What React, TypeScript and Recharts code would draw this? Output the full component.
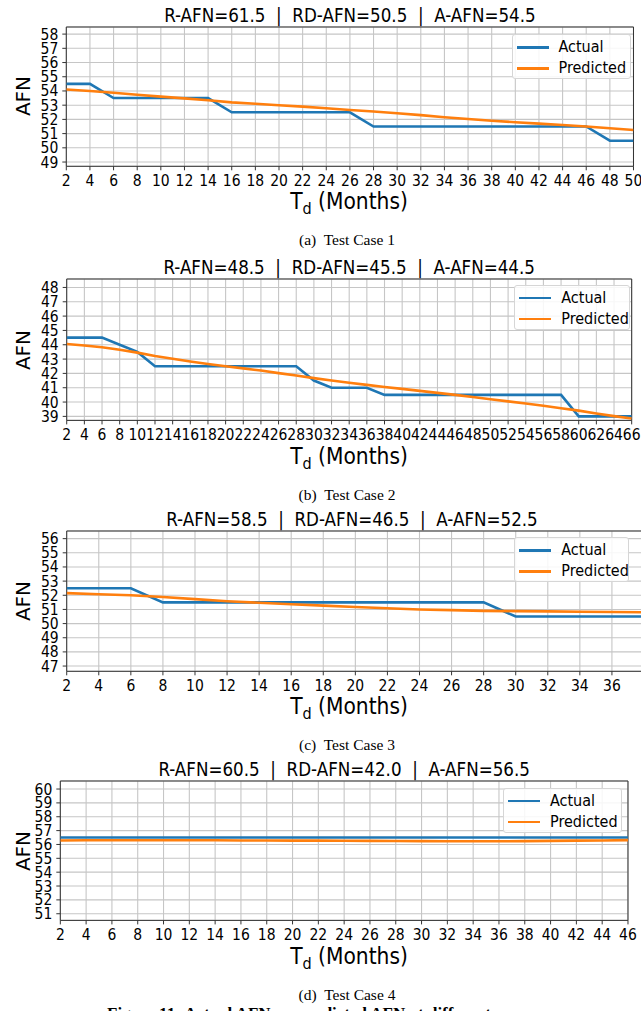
import React from "react";
import { LineChart, Line, XAxis, YAxis, CartesianGrid, ReferenceArea } from "recharts";

// ---- data ----
const months1 = [2, 4, 6, 8, 10, 12, 14, 16, 18, 20, 22, 24, 26, 28, 30, 32, 34, 36, 38, 40, 42, 44, 46, 48, 50];
const actual1 = [54.5, 54.5, 53.5, 53.5, 53.5, 53.5, 53.5, 52.5, 52.5, 52.5, 52.5, 52.5, 52.5, 51.5, 51.5, 51.5, 51.5, 51.5, 51.5, 51.5, 51.5, 51.5, 51.5, 50.5, 50.5];
const predicted1 = [54.1, 54.0, 53.87, 53.73, 53.6, 53.48, 53.35, 53.2, 53.1, 53.0, 52.9, 52.78, 52.66, 52.55, 52.43, 52.3, 52.15, 52.03, 51.9, 51.8, 51.7, 51.6, 51.5, 51.38, 51.25];

const months2 = [2, 4, 6, 8, 10, 12, 14, 16, 18, 20, 22, 24, 26, 28, 30, 32, 34, 36, 38, 40, 42, 44, 46, 48, 50, 52, 54, 56, 58, 60, 62, 64, 66];
const actual2 = [44.5, 44.5, 44.5, 44.0, 43.5, 42.5, 42.5, 42.5, 42.5, 42.5, 42.5, 42.5, 42.5, 42.5, 41.5, 41.0, 41.0, 41.0, 40.5, 40.5, 40.5, 40.5, 40.5, 40.5, 40.5, 40.5, 40.5, 40.5, 40.5, 39.0, 39.0, 39.0, 39.0];
const predicted2 = [44.05, 43.95, 43.82, 43.65, 43.45, 43.22, 43.02, 42.83, 42.66, 42.5, 42.35, 42.2, 42.02, 41.85, 41.67, 41.5, 41.35, 41.2, 41.05, 40.92, 40.78, 40.64, 40.5, 40.35, 40.2, 40.05, 39.9, 39.74, 39.57, 39.4, 39.2, 39.02, 38.85];

const months3 = [2, 4, 6, 8, 10, 12, 14, 16, 18, 20, 22, 24, 26, 28, 30, 32, 34, 36, 38];
const actual3 = [52.5, 52.5, 52.5, 51.5, 51.5, 51.5, 51.5, 51.5, 51.5, 51.5, 51.5, 51.5, 51.5, 51.5, 50.5, 50.5, 50.5, 50.5, 50.5];
const predicted3 = [52.15, 52.07, 52.0, 51.88, 51.73, 51.58, 51.47, 51.37, 51.27, 51.17, 51.08, 51.0, 50.95, 50.9, 50.88, 50.86, 50.84, 50.82, 50.8];

const months4 = [2, 4, 6, 8, 10, 12, 14, 16, 18, 20, 22, 24, 26, 28, 30, 32, 34, 36, 38, 40, 42, 44, 46];
const actual4 = [56.5, 56.5, 56.5, 56.5, 56.5, 56.5, 56.5, 56.5, 56.5, 56.5, 56.5, 56.5, 56.5, 56.5, 56.5, 56.5, 56.5, 56.5, 56.5, 56.5, 56.5, 56.5, 56.5];
const predicted4 = [56.29, 56.3, 56.3, 56.3, 56.3, 56.3, 56.3, 56.29, 56.29, 56.28, 56.28, 56.27, 56.26, 56.25, 56.24, 56.23, 56.23, 56.23, 56.24, 56.26, 56.28, 56.29, 56.31];

const xTicks1 = [2, 4, 6, 8, 10, 12, 14, 16, 18, 20, 22, 24, 26, 28, 30, 32, 34, 36, 38, 40, 42, 44, 46, 48, 50];
const xTicks2 = [2, 4, 6, 8, 10, 12, 14, 16, 18, 20, 22, 24, 26, 28, 30, 32, 34, 36, 38, 40, 42, 44, 46, 48, 50, 52, 54, 56, 58, 60, 62, 64, 66];
const xTicks3 = [2, 4, 6, 8, 10, 12, 14, 16, 18, 20, 22, 24, 26, 28, 30, 32, 34, 36];
const xTicks4 = [2, 4, 6, 8, 10, 12, 14, 16, 18, 20, 22, 24, 26, 28, 30, 32, 34, 36, 38, 40, 42, 44, 46];

const yTicks1 = [49, 50, 51, 52, 53, 54, 55, 56, 57, 58];
const yTicks2 = [39, 40, 41, 42, 43, 44, 45, 46, 47, 48];
const yTicks3 = [47, 48, 49, 50, 51, 52, 53, 54, 55, 56];
const yTicks4 = [51, 52, 53, 54, 55, 56, 57, 58, 59, 60];

const titles = [
  "R-AFN=61.5  |  RD-AFN=50.5  |  A-AFN=54.5",
  "R-AFN=48.5  |  RD-AFN=45.5  |  A-AFN=44.5",
  "R-AFN=58.5  |  RD-AFN=46.5  |  A-AFN=52.5",
  "R-AFN=60.5  |  RD-AFN=42.0  |  A-AFN=56.5",
];
const captions = ["(a)  Test Case 1", "(b)  Test Case 2", "(c)  Test Case 3", "(d)  Test Case 4"];

const BLUE = "#1f77b4";
const ORANGE = "#ff7f0e";
const FONT = '"DejaVu Sans Condensed", "DejaVu Sans", sans-serif';
const SERIF = '"Liberation Serif", "DejaVu Serif", serif';

const rows = (xs: number[], a: number[], p: number[]) =>
  xs.map((x, i) => ({ x, actual: a[i], predicted: p[i] }));

const panels = [
  {
    data: rows(months1, actual1, predicted1),
    xDomain: [2, 50], yDomain: [48.7, 58.5], xTicks: xTicks1, yTicks: yTicks1,
    plot: { top: 26.7, bottom: 166, left: 66.3, right: 633.5 },
    legend: { left: 511.5, top: 34.3, right: 630.5 },
  },
  {
    data: rows(months2, actual2, predicted2),
    xDomain: [2, 66], yDomain: [38.72, 48.59], xTicks: xTicks2, yTicks: yTicks2,
    plot: { top: 279.3, bottom: 420.7, left: 66.7, right: 631.7 },
    legend: { left: 514.3, top: 285, right: 630 },
  },
  {
    data: rows(months3, actual3, predicted3),
    xDomain: [2, 38], yDomain: [46.63, 56.54], xTicks: xTicks3, yTicks: yTicks3,
    plot: { top: 530.7, bottom: 671, left: 66.7, right: 644 },
    legend: { left: 514.3, top: 537.3, right: 629.3 },
  },
  {
    data: rows(months4, actual4, predicted4),
    xDomain: [2, 46], yDomain: [50.52, 60.58], xTicks: xTicks4, yTicks: yTicks4,
    plot: { top: 781.3, bottom: 920.7, left: 60.3, right: 628 },
    legend: { left: 503, top: 788, right: 622 },
  },
];

const PAD = 10;
const XAXIS_H = 34;

function Centered({ x, y, children, style }: any) {
  return (
    <div
      style={{
        position: "absolute",
        left: x,
        top: y,
        transform: "translate(-50%, -50%)",
        whiteSpace: "pre",
        lineHeight: 1,
        ...style,
      }}
    >
      {children}
    </div>
  );
}

function LegendBox({ left, top, right }: { left: number; top: number; right: number }) {
  const items = [
    { label: "Actual", color: BLUE },
    { label: "Predicted", color: ORANGE },
  ];
  return (
    <div
      style={{
        position: "absolute",
        left,
        top,
        width: right - left,
        height: 45,
        boxSizing: "border-box",
        border: "1px solid #d6d6d6",
        borderRadius: 3,
        background: "rgba(255,255,255,0.85)",
        fontFamily: FONT,
        fontStretch: "condensed",
        fontSize: 16,
      }}
    >
      {items.map((it, i) => (
        <div key={it.label} style={{ position: "absolute", left: 4, top: 4 + i * 21, height: 16, display: "flex", alignItems: "center" }}>
          <div style={{ width: 32, height: 2.6, background: it.color }} />
          <span style={{ marginLeft: 10, lineHeight: 1 }}>{it.label}</span>
        </div>
      ))}
    </div>
  );
}

function Panel({ idx }: { idx: number }) {
  const p = panels[idx];
  const { plot } = p;
  const width = Math.ceil(plot.right + 14);
  const height = plot.bottom - plot.top + PAD + XAXIS_H;
  const cx = (plot.left + plot.right) / 2;
  const tickStyle = { fill: "#000", fontSize: 15.5, fontFamily: FONT, fontStretch: "condensed" };
  return (
    <>
      <Centered x={idx === 2 ? 352 : cx} y={plot.top - 11} style={{ fontFamily: FONT, fontStretch: "condensed", fontSize: 18.6 }}>
        {titles[idx]}
      </Centered>
      <div style={{ position: "absolute", left: 0, top: plot.top - PAD, width, height }}>
        <LineChart width={width} height={height} data={p.data} margin={{ top: PAD, right: width - plot.right, bottom: 0, left: 0 }}>
          <CartesianGrid stroke="#c6c6c6" strokeWidth={1.1} />
          <XAxis
            dataKey="x"
            type="number"
            domain={p.xDomain}
            ticks={p.xTicks}
            interval={0}
            allowDataOverflow
            height={XAXIS_H}
            tickSize={4}
            tickMargin={5}
            axisLine={false}
            tickLine={{ stroke: "#333" }}
            tick={tickStyle}
          />
          <YAxis
            type="number"
            domain={p.yDomain}
            ticks={p.yTicks}
            interval={0}
            allowDataOverflow
            width={plot.left}
            tickSize={4}
            tickMargin={4}
            axisLine={false}
            tickLine={{ stroke: "#333" }}
            tick={tickStyle}
          />
          <Line type="linear" dataKey="actual" stroke={BLUE} strokeWidth={2.6} dot={false} isAnimationActive={false} />
          <Line type="linear" dataKey="predicted" stroke={ORANGE} strokeWidth={2.6} dot={false} isAnimationActive={false} />
          <ReferenceArea
            x1={p.xDomain[0]}
            x2={p.xDomain[1]}
            y1={p.yDomain[0]}
            y2={p.yDomain[1]}
            fill="none"
            stroke="#333"
            strokeWidth={1}
            ifOverflow="visible"
          />
        </LineChart>
      </div>
      <LegendBox {...p.legend} />
      <Centered
        x={23}
        y={(plot.top + plot.bottom) / 2}
        style={{ fontFamily: "DejaVu Sans, sans-serif", fontSize: 20, transform: "translate(-50%, -50%) rotate(-90deg)" }}
      >
        AFN
      </Centered>
      <Centered x={349} y={plot.bottom + 37} style={{ fontFamily: FONT, fontStretch: "condensed", fontSize: 22.5 }}>
        T<span style={{ fontSize: 16, verticalAlign: -5 }}>d</span> (Months)
      </Centered>
      <Centered x={347} y={plot.bottom + 74} style={{ fontFamily: SERIF, fontSize: 15.5 }}>
        {captions[idx]}
      </Centered>
    </>
  );
}

export default function App() {
  return (
    <div
      style={{
        position: "absolute",
        left: 0,
        top: 0,
        width: 641,
        height: 1011,
        overflow: "hidden",
        background: "#fff",
        color: "#000",
      }}
    >
      {panels.map((_, i) => (
        <Panel key={i} idx={i} />
      ))}
      <div
        style={{
          position: "absolute",
          left: 107,
          top: 1005,
          fontFamily: SERIF,
          fontWeight: "bold",
          fontSize: 17,
          lineHeight: 1,
          whiteSpace: "nowrap",
        }}
      >
        Figure 11: Actual AFN vs. predicted AFN at different
      </div>
    </div>
  );
}
